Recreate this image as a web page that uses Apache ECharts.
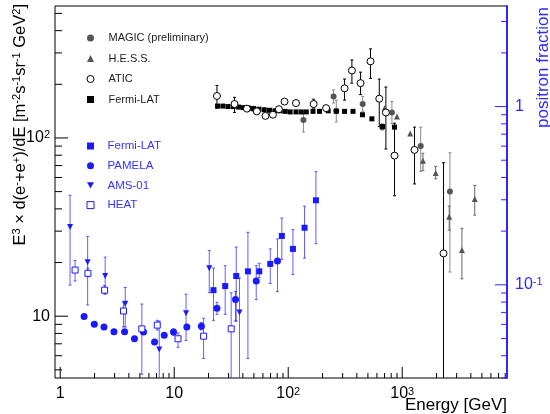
<!DOCTYPE html>
<html>
<head>
<meta charset="utf-8">
<script src="https://cdn.jsdelivr.net/npm/echarts@6/dist/echarts.min.js"></script>
<style>
  html, body { margin: 0; padding: 0; background: #fff; }
  #chart { width: 550px; height: 414px; }
</style>
</head>
<body>
<div id="chart"></div>
<script>
// e+ + e- spectrum, E^3 dN/dE (left axis)
const fermiE = [24.0, 26.7, 29.6, 32.9, 36.7, 40.5, 44.9, 49.6, 55.3, 61.6, 68.5, 76.4, 85.1, 94.1, 104, 117, 130, 144, 165, 188, 224, 264, 312, 370, 448, 542, 671, 856];
const fermiFlux = [151, 151, 150, 150, 149, 148, 147, 146, 145, 144, 143, 142, 142, 141, 140, 140, 140, 140, 141, 141, 142, 141, 141, 141, 135, 128, 116, 115];

const aticE = [23.7, 33.8, 43.4, 53.1, 63.2, 73.4, 82.9, 92.8, 117, 167, 215, 312, 362, 431, 527, 629, 719, 856, 1282, 2303];
const aticFlux = [172, 155, 146, 141, 133, 135, 145, 160, 157, 155, 147, 190, 239, 203, 269, 166, 139, 79.6, 85.7, 22.5];
const aticLo = [147, 139, null, null, null, null, null, null, null, 147, 142, 163, 203, 175, 216, 116, 86.7, 47.4, 55.2, 3];
const aticHi = [197, 169, null, null, null, null, null, null, null, 165, 151, 214, 274, 234, 316, 214, 193, 121, 115, 72.6];

const magicE = [44.3, 49.6, 136, 250, 264, 450, 668, 812, 1453, 2620];
const magicFlux = [147, 146, 126, 171, 142, 155, 115, 139, 90.2, 50.0];
const magicLo = [null, null, 108, 157, 123, 141, 111, 120, 64.9, 17.7];
const magicHi = [null, null, 141, 186, 163, 171, 120, 160, 115, 82.6];

const hessE = [700, 899, 1175, 1520, 1966, 2583, 3340, 4325];
const hessFlux = [147, 132, 106, 74.5, 63.5, 36.1, 23.5, 45.4];
const hessLo = [null, null, null, 65.5, 59.0, 30.4, 16.2, 36.9];
const hessHi = [null, null, null, 82.0, 69.3, 41.5, 31.1, 54.2];

// positron fraction (right axis)
const fermiPfE = [22.1, 28.0, 35.0, 44.3, 55.7, 69.6, 87.9, 110, 139, 175];
const fermiPf = [0.0933, 0.0984, 0.112, 0.119, 0.119, 0.131, 0.188, 0.159, 0.209, 0.298];
const fermiPfLo = [0.0632, 0.0683, 0.0626, 0.0386, 0.110, 0.1017, 0.139, 0.114, 0.141, 0.170];
const fermiPfHi = [0.124, 0.128, 0.163, 0.197, 0.132, 0.159, 0.237, 0.204, 0.276, 0.431];

const pamelaE = [1.62, 1.99, 2.42, 2.96, 3.67, 4.48, 5.38, 6.72, 8.17, 9.86, 12.9, 17.3, 23.7, 34.5, 52.4, 80.5];
const pamelaPf = [0.0665, 0.060, 0.058, 0.0545, 0.0545, 0.0498, 0.0543, 0.0478, 0.0522, 0.0543, 0.058, 0.0585, 0.0738, 0.0826, 0.105, 0.136];
const pamelaLo = [null, null, null, null, null, null, null, null, null, 0.0521, null, 0.0558, 0.0683, 0.0626, 0.0826, 0.0915];
const pamelaHi = [null, null, null, null, null, null, null, null, null, 0.0565, null, 0.0613, 0.0797, 0.0916, 0.128, 0.181];

const amsE = [1.22, 1.74, 2.48, 3.72, 7.39, 12.7, 20.3, 37.4];
const amsPf = [0.211, 0.134, 0.112, 0.0784, 0.0433, 0.0692, 0.124, 0.070];
const amsLo = [0.0996, 0.077, 0.0886, 0.058, 0.02, 0.0487, 0.0904, 0.02];
const amsHi = [0.318, 0.187, 0.143, 0.0966, 0.0626, 0.0886, 0.156, 0.109];

const heatE = [1.35, 1.75, 2.45, 3.59, 5.20, 7.10, 10.8, 18.1, 31.6];
const heatPf = [0.121, 0.116, 0.0933, 0.0713, 0.0566, 0.0594, 0.0498, 0.0515, 0.0566];
const heatLo = [0.105, 0.111, 0.089, 0.058, 0.0315, 0.0557, 0.0446, 0.0386, 0.02];
const heatHi = [0.137, 0.124, 0.099, 0.0797, 0.078, 0.0632, 0.0537, 0.0649, 0.0902];

// axes
const xMin = 0.9, xMax = 8300;
const yMin = 4.5, yMax = 550;
const scale = 150; // flux / positron fraction, so both axes share the decade spacing
const xTicks = logTicks(1, 8000);
const yTicks = logTicks(5, 500);
const pfTicks = logTicks(0.03, 3);

function logTicks(lo, hi) {
  const out = [];
  for (let p = -3; p <= 4; p++) {
    for (let m = 1; m <= 9; m++) {
      const v = +(m * Math.pow(10, p)).toPrecision(6);
      if (v >= lo * 0.999 && v <= hi * 1.001) out.push(v);
    }
  }
  return out;
}
function isDecade(v) {
  const l = Math.log10(v);
  return Math.abs(l - Math.round(l)) < 1e-6;
}
function powLabel(v) {
  if (!isDecade(v)) return '';
  const p = Math.round(Math.log10(v));
  if (p === 0) return '1';
  if (p === 1) return '10';
  return '10{sup|' + p + '}';
}

const font = '"Liberation Sans", Arial, Helvetica, sans-serif';
const blue = '#1a1aff';
const blueErr = 'rgba(30,30,255,0.7)';
const supRich = { sup: { fontSize: 11, verticalAlign: 'top', fontFamily: font } };
const triangleDown = 'path://M0,0L10,0L5,9Z';

function pts(e, v) { return e.map((x, i) => [x, v[i]]); }
function errs(e, lo, hi) {
  const out = [];
  e.forEach((x, i) => { if (lo[i] != null) out.push([x, lo[i], hi[i]]); });
  return out;
}

// vertical error bars with small caps
function errorSeries(name, data, color, yIdx) {
  return {
    type: 'custom', name: name, yAxisIndex: yIdx, data: data, clip: true, silent: true, z: 2,
    encode: { x: 0, y: [1, 2] },
    renderItem: function (params, api) {
      const x = api.value(0);
      const lo = api.coord([x, api.value(1)]);
      const hi = api.coord([x, api.value(2)]);
      const st = { stroke: color, lineWidth: 1 };
      return {
        type: 'group', children: [
          { type: 'line', shape: { x1: lo[0], y1: lo[1], x2: hi[0], y2: hi[1] }, style: st },
          { type: 'line', shape: { x1: hi[0] - 1.5, y1: hi[1], x2: hi[0] + 1.5, y2: hi[1] }, style: st },
          { type: 'line', shape: { x1: lo[0] - 1.5, y1: lo[1], x2: lo[0] + 1.5, y2: lo[1] }, style: st }
        ]
      };
    }
  };
}

// ROOT-style inner tick marks, drawn at the axis positions given by the scales
function tickSeries(ticks, side) {
  const yIdx = side === 'right' ? 1 : 0;
  const data = ticks.map(v => side === 'bottom' ? [v, 10] : [10, v]);
  return {
    type: 'custom', yAxisIndex: yIdx, data: data, silent: true, z: 5,
    encode: { x: 0, y: 1 },
    renderItem: function (params, api) {
      const cs = params.coordSys;
      const p = api.coord([api.value(0), api.value(1)]);
      const st = { stroke: side === 'right' ? '#2a2aff' : '#000', lineWidth: 1 };
      let shape;
      if (side === 'bottom') {
        const len = isDecade(api.value(0)) ? 11 : 5;
        const y0 = cs.y + cs.height;
        shape = { x1: p[0], y1: y0, x2: p[0], y2: y0 - len };
      } else if (side === 'left') {
        const len = isDecade(api.value(1)) ? 13 : 7;
        shape = { x1: cs.x, y1: p[1], x2: cs.x + len, y2: p[1] };
      } else {
        const len = isDecade(api.value(1)) ? 12 : 6;
        const x0 = cs.x + cs.width;
        shape = { x1: x0, y1: p[1], x2: x0 - len, y2: p[1] };
      }
      return { type: 'line', shape: shape, style: st };
    }
  };
}

const chart = echarts.init(document.getElementById('chart'));

const option = {
  animation: false,
  backgroundColor: '#fff',
  textStyle: { fontFamily: font },
  grid: { left: 55, right: 43, top: 6, bottom: 36, show: true, borderColor: '#000', borderWidth: 1 },
  xAxis: {
    type: 'log', min: xMin, max: xMax,
    axisLine: { show: false }, axisTick: { show: false }, splitLine: { show: false },
    axisLabel: { formatter: powLabel, fontSize: 16, color: '#000', margin: 8, fontFamily: font, rich: supRich, showMinLabel: false, showMaxLabel: false }
  },
  yAxis: [
    {
      type: 'log', min: yMin, max: yMax,
      axisLine: { show: false }, axisTick: { show: false }, splitLine: { show: false },
      axisLabel: { formatter: powLabel, fontSize: 16, color: '#000', margin: 5, fontFamily: font, rich: supRich }
    },
    {
      type: 'log', min: yMin / scale, max: yMax / scale, position: 'right',
      axisLine: { show: true, lineStyle: { color: '#2a2aff', width: 2 } },
      axisTick: { show: false }, splitLine: { show: false },
      axisLabel: { formatter: powLabel, fontSize: 16, color: '#2a2aff', margin: 8, fontFamily: font, rich: supRich }
    }
  ],
  legend: [
    {
      data: ['MAGIC (preliminary)', 'H.E.S.S.', 'ATIC', 'Fermi-LAT'],
      orient: 'vertical', left: 86.5, top: 32, padding: 0,
      itemWidth: 7, itemHeight: 7, itemGap: 8.5, selectedMode: false,
      itemStyle: { borderWidth: 1 },
      textStyle: { fontFamily: font, fontSize: 11, color: '#222', lineHeight: 12, padding: [0, 0, 0, 9.5] }
    },
    {
      data: ['Fermi-LAT ', 'PAMELA', 'AMS-01', 'HEAT'],
      orient: 'vertical', left: 86.5, top: 140, padding: 0,
      itemWidth: 7, itemHeight: 7, itemGap: 7.7, selectedMode: false,
      itemStyle: { borderWidth: 1 },
      textStyle: { fontFamily: font, fontSize: 11.5, color: '#3333ff', lineHeight: 12, padding: [0, 0, 0, 8.5] }
    }
  ],
  graphic: [
    {
      type: 'text', x: 20, y: 4, rotation: Math.PI / 2,
      style: {
        text: 'E{s|3} × d(e{s|-}+e{s|+})/dE [m{s|-2}s{s|-1}sr{s|-1} GeV{s|2}]',
        align: 'right', verticalAlign: 'middle', fill: '#000',
        fontSize: 16.5, fontFamily: font,
        rich: { s: { fontSize: 11, verticalAlign: 'top', fontFamily: font } }
      }
    },
    {
      type: 'text', x: 543, y: 7, rotation: Math.PI / 2,
      style: { text: 'positron fraction', align: 'right', verticalAlign: 'middle', fill: '#2a2aff', fontSize: 17, fontFamily: font }
    },
    {
      type: 'text', x: 507, y: 405,
      style: { text: 'Energy [GeV]', align: 'right', verticalAlign: 'middle', fill: '#000', fontSize: 17, fontFamily: font }
    }
  ],
  series: [
    tickSeries(xTicks, 'bottom'),
    tickSeries(yTicks, 'left'),
    tickSeries(pfTicks, 'right'),

    errorSeries('atic-err', errs(aticE, aticLo, aticHi), '#000', 0),
    errorSeries('magic-err', errs(magicE, magicLo, magicHi), '#8a8a8a', 0),
    errorSeries('hess-err', errs(hessE, hessLo, hessHi), '#666', 0),
    errorSeries('fermipf-err', errs(fermiPfE, fermiPfLo, fermiPfHi), blueErr, 1),
    errorSeries('pamela-err', errs(pamelaE, pamelaLo, pamelaHi), blueErr, 1),
    errorSeries('ams-err', errs(amsE, amsLo, amsHi), blueErr, 1),
    errorSeries('heat-err', errs(heatE, heatLo, heatHi), blueErr, 1),

    { type: 'scatter', name: 'MAGIC (preliminary)', data: pts(magicE, magicFlux), symbol: 'circle', symbolSize: 6, itemStyle: { color: '#555', opacity: 1 }, z: 3 },
    { type: 'scatter', name: 'H.E.S.S.', data: pts(hessE, hessFlux), symbol: 'triangle', symbolSize: 6, itemStyle: { color: '#555', opacity: 1 }, z: 3 },
    { type: 'scatter', name: 'Fermi-LAT', data: pts(fermiE, fermiFlux), symbol: 'rect', symbolSize: 5, itemStyle: { color: '#000', opacity: 1 }, z: 3 },
    { type: 'scatter', name: 'ATIC', data: pts(aticE, aticFlux), symbol: 'circle', symbolSize: 7, itemStyle: { color: '#fff', borderColor: '#000', borderWidth: 1, opacity: 1 }, z: 4 },

    { type: 'scatter', name: 'Fermi-LAT ', yAxisIndex: 1, data: pts(fermiPfE, fermiPf), symbol: 'rect', symbolSize: 6, itemStyle: { color: blue, opacity: 1 }, z: 3 },
    { type: 'scatter', name: 'PAMELA', yAxisIndex: 1, data: pts(pamelaE, pamelaPf), symbol: 'circle', symbolSize: 7, itemStyle: { color: blue, opacity: 1 }, z: 3 },
    { type: 'scatter', name: 'AMS-01', yAxisIndex: 1, data: pts(amsE, amsPf), symbol: triangleDown, symbolSize: 6, itemStyle: { color: blue, opacity: 1 }, z: 3 },
    { type: 'scatter', name: 'HEAT', yAxisIndex: 1, data: pts(heatE, heatPf), symbol: 'rect', symbolSize: 6, itemStyle: { color: '#fff', borderColor: blue, borderWidth: 1, opacity: 1 }, z: 4 }
  ]
};

chart.setOption(option);
</script>
</body>
</html>
